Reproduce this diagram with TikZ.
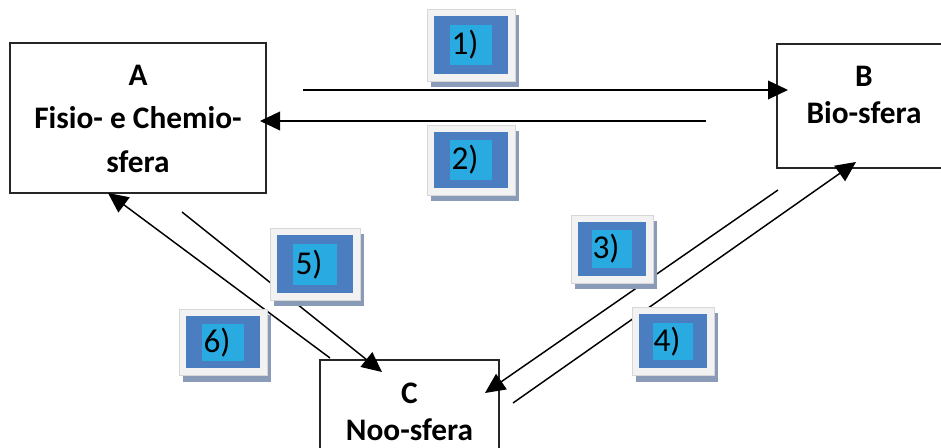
\documentclass[tikz,border=0pt]{standalone}
\usepackage{fontspec}
\setmainfont{Carlito}
\usetikzlibrary{arrows.meta}

\definecolor{boxline}{RGB}{38,38,38}
\definecolor{tagshade}{RGB}{138,155,184}
\definecolor{tagpaper}{RGB}{242,242,242}
\definecolor{tagrim}{RGB}{215,215,215}
\definecolor{tagblue}{RGB}{74,126,193}
\definecolor{tagcyan}{RGB}{41,171,226}

\tikzset{
  sphere/.style={draw=boxline, line width=1.4pt, fill=white, inner sep=0pt},
  spheretext/.style={font=\fontsize{23.5pt}{28pt}\selectfont\bfseries, align=center, inner sep=0pt},
  flow/.style={draw=black, line width=1.1pt, -{Triangle[length=15pt,width=14pt]}},
  tagshadow/.style={fill=tagshade, inner sep=0pt},
  tagframe/.style={fill=tagpaper, draw=tagrim, line width=0.4pt, inner sep=0pt},
  tagbody/.style={fill=tagblue, inner sep=0pt},
  tagcore/.style={fill=tagcyan, inner sep=0pt},
  tagtext/.style={font=\fontsize{25pt}{28pt}\selectfont, inner sep=0pt},
}

% numbered tag: name, x, y (centre of the blue panel), width, height (px), text
\newcommand\tagbox[6]{%
  \node[tagshadow, minimum width={(#4+14)*0.75pt}, minimum height={(#5+14)*0.75pt}]
    (#1-shadow) at (#2+4,#3+6) {};
  \node[tagframe, minimum width={(#4+14)*0.75pt}, minimum height={(#5+14)*0.75pt}]
    (#1-frame) at (#2,#3) {};
  \node[tagbody, minimum width={#4*0.75pt}, minimum height={#5*0.75pt}]
    (#1-body) at (#2,#3) {};
  \node[tagcore, minimum width={#4*0.58*0.75pt}, minimum height={#5*0.70*0.75pt}]
    (#1-core) at (#2,#3) {};
  \node[tagtext] (#1) at (#2-6,#3) {#6};
}

\begin{document}
\begin{tikzpicture}[x=0.75pt, y=-0.75pt]
  \useasboundingbox (0,0) rectangle (941,448);
  \clip (0,0) rectangle (941,448);

  % the three spheres
  \node[sphere, minimum width=192pt, minimum height=112.5pt] (A) at (138,118) {};
  \node[spheretext] (A-text) at (138,118.5) {A\\[4.6pt]Fisio- e Chemio-\\[4.6pt]sfera};

  \node[sphere, minimum width=130.5pt, minimum height=93pt] (B) at (864,106) {};
  \node[spheretext] (B-text) at (864,95) {B\\Bio-sfera};

  \node[sphere, minimum width=134.25pt, minimum height=82.5pt] (C) at (409.5,415) {};
  \node[spheretext] (C-text) at (409.5,412) {C\\Noo-sfera};

  % connector end points
  \coordinate (s1) at (303,90);   \coordinate (e1) at (788,90);
  \coordinate (s2) at (706,121);  \coordinate (e2) at (260,121);
  \coordinate (s3) at (778,190);  \coordinate (e3) at (485,393);
  \coordinate (s4) at (513,403);  \coordinate (e4) at (856,162);
  \coordinate (s5) at (182,212);  \coordinate (e5) at (382,372);
  \coordinate (s6) at (330,358);  \coordinate (e6) at (108,193);

  \draw[flow] (s1) -- (e1);
  \draw[flow] (s2) -- (e2);
  \draw[flow] (s3) -- (e3);
  \draw[flow] (s4) -- (e4);
  \draw[flow] (s5) -- (e5);
  \draw[flow] (s6) -- (e6);

  % numbered tags
  \tagbox{t1}{471}{45}{74}{58}{1)}
  \tagbox{t2}{471}{160}{74}{56}{2)}
  \tagbox{t3}{612}{249}{68}{54}{3)}
  \tagbox{t4}{673}{341.5}{68}{54}{4)}
  \tagbox{t5}{315}{264.5}{76}{58}{5)}
  \tagbox{t6}{223}{342.5}{74}{52}{6)}
\end{tikzpicture}
\end{document}
